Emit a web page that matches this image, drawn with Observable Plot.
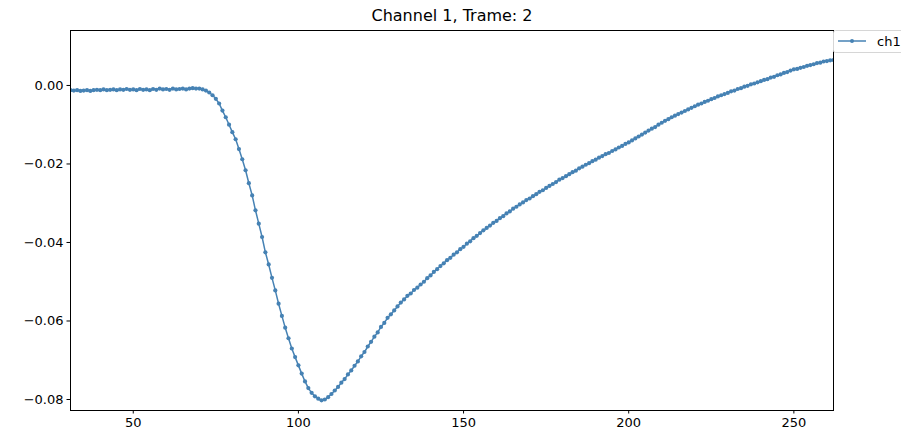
<!DOCTYPE html>
<html>
<head>
<meta charset="utf-8">
<script src="https://cdn.jsdelivr.net/npm/d3@7"></script>
<script src="https://cdn.jsdelivr.net/npm/@observablehq/plot@0.6"></script>
<style>
  html, body { margin: 0; padding: 0; background: #fff; }
  #chart { width: 901px; height: 434px; }
</style>
</head>
<body>
<div id="chart"></div>
<script>
const title = "Channel 1, Trame: 2";
const seriesName = "ch1";
const startSample = 31;
const ch1 = [
  -0.0012,-0.0013,-0.0012,-0.0014,-0.0013,-0.0012,-0.0014,-0.0012,-0.0011,-0.0012,
  -0.0010,-0.0012,-0.0011,-0.0010,-0.0012,-0.0010,-0.0011,-0.0009,-0.0011,-0.0010,
  -0.0012,-0.0009,-0.0011,-0.0010,-0.0012,-0.0009,-0.0011,-0.0008,-0.0010,-0.0009,
  -0.0011,-0.0008,-0.0010,-0.0009,-0.0008,-0.0010,-0.0008,-0.0007,-0.0008,-0.0008,
  -0.0010,-0.0013,-0.0018,-0.0025,-0.0034,-0.0046,-0.0064,-0.0081,-0.0100,-0.0119,
  -0.0137,-0.0162,-0.0188,-0.0216,-0.0249,-0.0280,-0.0318,-0.0352,-0.0386,-0.0425,
  -0.0456,-0.0490,-0.0522,-0.0556,-0.0587,-0.0617,-0.0644,-0.0670,-0.0692,-0.0713,
  -0.0734,-0.0754,-0.0771,-0.0783,-0.0792,-0.0798,-0.0802,-0.0800,-0.0794,-0.0786,
  -0.0777,-0.0768,-0.0757,-0.0748,-0.0736,-0.0726,-0.0714,-0.0703,-0.0690,-0.0679,
  -0.0665,-0.0653,-0.0640,-0.0629,-0.0615,-0.0605,-0.0592,-0.0583,-0.0573,-0.0563,
  -0.0553,-0.0545,-0.0536,-0.0530,-0.0521,-0.0515,-0.0507,-0.0500,-0.0491,-0.0484,
  -0.0475,-0.0468,-0.0460,-0.0453,-0.0445,-0.0439,-0.0431,-0.0425,-0.0417,-0.0411,
  -0.0403,-0.0397,-0.0389,-0.0383,-0.0376,-0.0369,-0.0363,-0.0357,-0.0350,-0.0345,
  -0.0338,-0.0333,-0.0326,-0.0321,-0.0314,-0.0309,-0.0303,-0.0298,-0.0292,-0.0288,
  -0.0282,-0.0277,-0.0271,-0.0267,-0.0261,-0.0256,-0.0251,-0.0246,-0.0240,-0.0236,
  -0.0231,-0.0226,-0.0221,-0.0217,-0.0211,-0.0207,-0.0202,-0.0198,-0.0193,-0.0189,
  -0.0184,-0.0180,-0.0175,-0.0172,-0.0167,-0.0163,-0.0158,-0.0154,-0.0149,-0.0145,
  -0.0140,-0.0135,-0.0130,-0.0125,-0.0120,-0.0115,-0.0110,-0.0106,-0.0100,-0.0095,
  -0.0090,-0.0086,-0.0081,-0.0077,-0.0073,-0.0069,-0.0065,-0.0061,-0.0057,-0.0053,
  -0.0049,-0.0046,-0.0042,-0.0039,-0.0035,-0.0032,-0.0028,-0.0025,-0.0022,-0.0019,
  -0.0015,-0.0013,-0.0009,-0.0007,-0.0003,-0.0001,0.0003,0.0005,0.0008,0.0011,
  0.0014,0.0016,0.0020,0.0022,0.0026,0.0028,0.0032,0.0034,0.0038,0.0041,
  0.0042,0.0045,0.0047,0.0050,0.0052,0.0054,0.0057,0.0058,0.0061,0.0062,
  0.0064,0.0065
];
const xTicks = [50, 100, 150, 200, 250];
const yTicks = [0, -0.02, -0.04, -0.06, -0.08];
const xDomain = [31, 262];
const yDomain = [-0.0828, 0.0140];

const data = ch1.map((v, i) => ({x: startSample + i, y: v}));
const lineColor = "#4682b4";

const plot = Plot.plot({
  width: 901,
  height: 434,
  marginLeft: 70,
  marginRight: 68,
  marginTop: 30,
  marginBottom: 24,
  style: {fontFamily: "'DejaVu Sans', sans-serif", fontSize: "13px", color: "#000", background: "#fff"},
  x: {domain: xDomain},
  y: {domain: yDomain},
  marks: [
    Plot.axisX({ticks: xTicks, tickSize: 3.5, tickPadding: 3.5, label: null, fontSize: 13}),
    Plot.axisY({ticks: yTicks, tickSize: 3.5, tickPadding: 3.5, label: null, tickFormat: d3.format(".2f"), fontSize: 13}),
    Plot.line(data, {x: "x", y: "y", stroke: lineColor, strokeWidth: 1.5, clip: "frame"}),
    Plot.dot(data, {x: "x", y: "y", r: 2.1, fill: lineColor, stroke: "none", clip: "frame"}),
    Plot.frame({stroke: "#000", strokeWidth: 1}),
    Plot.text([title], {frameAnchor: "top", dy: -15, fontSize: 16, fill: "#000", lineAnchor: "middle"})
  ]
});

document.getElementById("chart").appendChild(plot);

// legend (outside upper-right of the axes)
const svg = d3.select(plot);
const lg = svg.append("g").attr("font-family", "'DejaVu Sans', sans-serif").attr("text-anchor", "start");
lg.append("rect").attr("x", 833.5).attr("y", 30.5).attr("width", 80).attr("height", 22)
  .attr("rx", 2).attr("fill", "#fff").attr("stroke", "#d6d6d6").attr("stroke-width", 1);
lg.append("line").attr("x1", 838).attr("x2", 866).attr("y1", 41).attr("y2", 41)
  .attr("stroke", lineColor).attr("stroke-width", 1.5);
lg.append("circle").attr("cx", 852).attr("cy", 41).attr("r", 2).attr("fill", lineColor);
lg.append("text").attr("x", 877).attr("y", 45.5).attr("font-size", 13).attr("fill", "#000")
  .attr("text-anchor", "start").text(seriesName);
</script>
</body>
</html>
